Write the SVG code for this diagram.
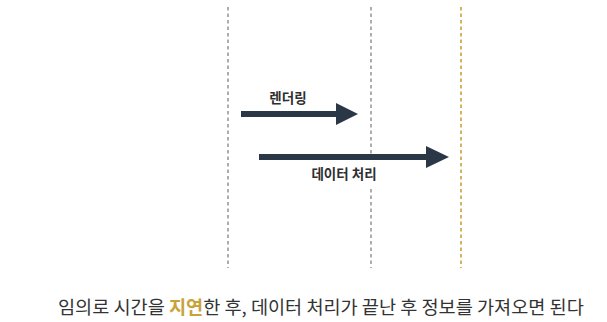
<svg xmlns="http://www.w3.org/2000/svg" width="607" height="322" viewBox="0 0 607 322">
<style>
.dash{stroke:#9a9a9a;stroke-width:1.6;stroke-dasharray:3.5 3;fill:none}
.gold{stroke:#c9a23a}
.arrow{fill:#2a3746}
.lbl{font-family:"Noto Sans CJK KR","Noto Sans",sans-serif;font-weight:bold;font-size:13.5px;fill:#2f2f2f;text-anchor:middle}
.cap{font-family:"Noto Sans CJK KR","Noto Sans",sans-serif;font-size:18.6px;fill:#333}
.hl{fill:#c9a23a;font-weight:bold}
</style>
<rect width="607" height="322" fill="#fff"/>
<g id="connectors">
<line class="dash" x1="228" y1="7" x2="228" y2="268"/>
<line class="dash" x1="371" y1="7" x2="371" y2="160"/>
<line class="dash" x1="371" y1="189" x2="371" y2="268"/>
<line class="dash gold" x1="461" y1="7" x2="461" y2="268"/>
</g>
<g id="render">
<polygon class="arrow" points="241,111 336,111 336,103 358,114 336,125 336,117 241,117"/>
<text class="lbl" x="288" y="103">렌더링</text>
</g>
<g id="data">
<polygon class="arrow" points="259,154 426,154 426,146 449,157 426,168 426,160 259,160"/>
<text class="lbl" x="344" y="179">데이터 처리</text>
</g>
<g id="caption">
<text class="cap" x="58" y="314">임의로 시간을 <tspan class="hl">지연</tspan>한 후, 데이터 처리가 끝난 후 정보를 가져오면 된다</text>
</g>
</svg>
